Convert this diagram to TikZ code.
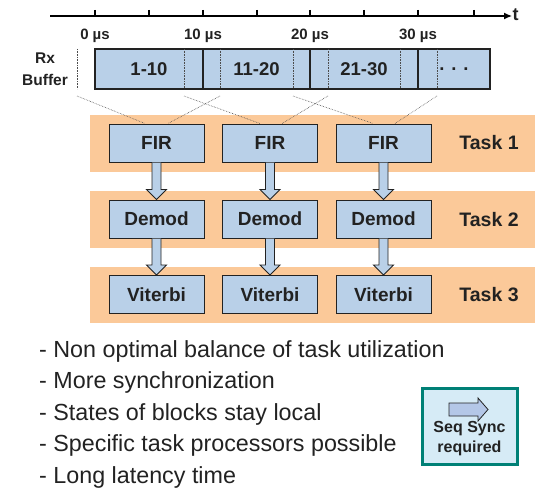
\documentclass[tikz,border=0pt]{standalone}
\usepackage{fontspec}
\setmainfont{Liberation Sans}
\usetikzlibrary{arrows.meta,calc}
\definecolor{boxblue}{RGB}{185,208,232}
\definecolor{bandorange}{RGB}{251,201,153}
\definecolor{txt}{RGB}{34,34,34}
\definecolor{tealb}{RGB}{0,128,118}
\definecolor{syncfill}{RGB}{214,235,246}
\definecolor{arrfill}{RGB}{180,199,231}
\newcommand\hollowarrow[2]{%
  \draw[harrow] ($(#1.south)+(-4.5,0)$) -- ($(#2.north)+(-4.5,-10)$) -- ($(#2.north)+(-10,-10)$) -- (#2.north) -- ($(#2.north)+(10,-10)$) -- ($(#2.north)+(4.5,-10)$) -- ($(#1.south)+(4.5,0)$);}
\begin{document}
\begin{tikzpicture}[x=1pt,y=-1pt,
  blk/.style={draw=txt, line width=1pt, fill=boxblue, minimum width=95pt, minimum height=38pt, inner sep=0pt, text=txt, font=\fontsize{19}{19}\selectfont\bfseries},
  seg/.style={draw=txt, line width=1.2pt, fill=boxblue, minimum height=40pt, inner sep=0pt, text=txt, font=\fontsize{18.5}{18.5}\selectfont\bfseries},
  tasklbl/.style={text=txt, font=\fontsize{19.5}{19.5}\selectfont\bfseries},
  axlbl/.style={text=txt, font=\fontsize{15}{15}\selectfont\bfseries},
  bullet/.style={anchor=base west, inner sep=0pt, text=txt, font=\fontsize{23.3}{23.3}\selectfont},
  dotl/.style={densely dotted, draw=black!70, line width=0.6pt},
  harrow/.style={draw=txt, line width=0.9pt, fill=boxblue, line join=miter},
  tick/.style={draw=black, line width=1.3pt}]
\useasboundingbox (0,0) rectangle (551,487);
% time axis
\coordinate (ax0) at (50,16);
\coordinate (ax1) at (512,16);
\draw[line width=1.3pt, -{Latex[length=8pt,width=7pt]}] (ax0) -- (ax1);
\node[text=txt, font=\fontsize{18}{18}\selectfont\bfseries, anchor=west, inner sep=0pt] (tlbl) at (512.5,15) {t};
\foreach \x in {95,149,203,257,310,364,418,474} \draw[tick] (\x,10) -- (\x,16);
\node[axlbl] (l0) at (95,36) {0 µs};
\node[axlbl] (l10) at (203,36) {10 µs};
\node[axlbl] (l20) at (310,36) {20 µs};
\node[axlbl] (l30) at (418,36) {30 µs};
% Rx buffer
\node[text=txt, font=\fontsize{15.5}{22}\selectfont\bfseries, align=center] (rx) at (45,69) {Rx\\Buffer};
\node[seg, minimum width=108pt] (s1) at (149,69) {};
\node[seg, minimum width=107pt] (s2) at (256.5,69) {};
\node[seg, minimum width=108pt] (s3) at (364,69) {};
\node[seg, minimum width=72pt] (s4) at (454,69) {};
\foreach \x in {184,220,293,328,400,437} \draw[dotl] (\x,49) -- (\x,89);
\draw[dotl] (77,49) -- (77,89);
\node[seg, draw=none, fill=none] at (s1) {1-10};
\node[seg, draw=none, fill=none] at (s2) {11-20};
\node[seg, draw=none, fill=none] at (s3) {21-30};
\node[seg, draw=none, fill=none] at (s4) {. . .};
% bands
\fill[bandorange] (90,115) rectangle (535,172);
\fill[bandorange] (90,191) rectangle (535,248);
\fill[bandorange] (90,267) rectangle (535,323);
\node[tasklbl] (t1) at (489,143) {Task 1};
\node[tasklbl] (t2) at (489,220) {Task 2};
\node[tasklbl] (t3) at (489,295) {Task 3};
% blocks
\node[blk] (f1) at (156.5,143) {FIR};
\node[blk] (f2) at (270,143) {FIR};
\node[blk] (f3) at (383.5,143) {FIR};
\node[blk] (d1) at (156.5,219) {Demod};
\node[blk] (d2) at (270,219) {Demod};
\node[blk] (d3) at (383.5,219) {Demod};
\node[blk] (v1) at (156.5,294.5) {Viterbi};
\node[blk] (v2) at (270,294.5) {Viterbi};
\node[blk] (v3) at (383.5,294.5) {Viterbi};
% dotted crossing lines
\coordinate (c0) at (77,96);
\coordinate (c1) at (184,96);
\coordinate (c2) at (220,96);
\coordinate (c3) at (293,96);
\coordinate (c4) at (328,96);
\coordinate (c5) at (437,96);
\draw[dotl] (c0) -- ($(f1.north)+(-11.5,0)$);
\draw[dotl] (c2) -- ($(f1.north)+(11.5,0)$);
\draw[dotl] (c1) -- ($(f2.north)+(-10,0)$);
\draw[dotl] (c4) -- ($(f2.north)+(12,0)$);
\draw[dotl] (c3) -- ($(f3.north)+(-10.5,0)$);
\draw[dotl] (c5) -- ($(f3.north)+(11.5,0)$);
% hollow arrows
\hollowarrow{f1}{d1}
\hollowarrow{f2}{d2}
\hollowarrow{f3}{d3}
\hollowarrow{d1}{v1}
\hollowarrow{d2}{v2}
\hollowarrow{d3}{v3}
% bullets
\node[bullet] (b1) at (39,357) {- Non optimal balance of task utilization};
\node[bullet] (b2) at (39,388.5) {- More synchronization};
\node[bullet] (b3) at (39,420) {- States of blocks stay local};
\node[bullet] (b4) at (39,451.5) {- Specific task processors possible};
\node[bullet] (b5) at (39,483) {- Long latency time};
% seq sync box
\node[draw=tealb, line width=3pt, fill=syncfill, minimum width=95pt, minimum height=76pt, inner sep=0pt] (sync) at (469.5,426) {};
\node[text=txt, font=\fontsize{16}{20}\selectfont\bfseries, align=center] (synct) at (469.5,439) {Seq Sync\\required};
\coordinate (sa) at (449,409.5);
\draw[draw=txt, line width=0.8pt, fill=arrfill] (sa) ++(0,-6.5) -- ++(29,0) -- ++(0,-5) -- ++(10,11.5) -- ++(-10,11.5) -- ++(0,-5) -- ++(-29,0) -- cycle;
\end{tikzpicture}
\end{document}
